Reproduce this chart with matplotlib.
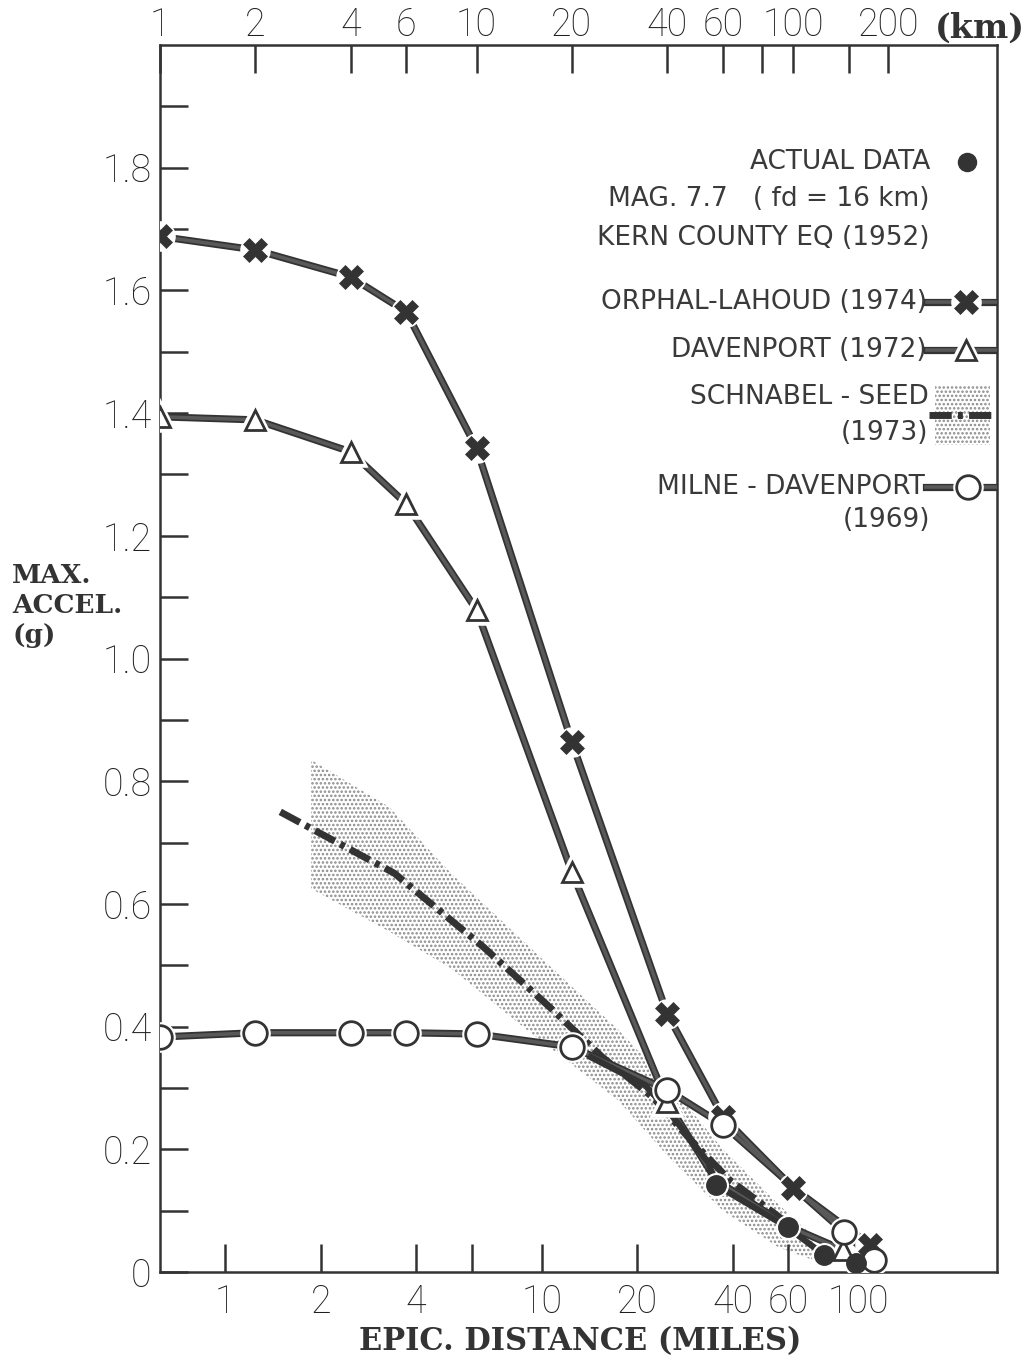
import numpy as np
import matplotlib
matplotlib.use("Agg")
import matplotlib.pyplot as plt
from matplotlib.ticker import NullLocator, FixedLocator

# distances in km, accelerations in g
orphal_km = [1, 2, 4, 6, 10, 20, 40, 60, 100, 175]
orphal_g = [1.688, 1.666, 1.622, 1.565, 1.343, 0.864, 0.421, 0.253, 0.137, 0.044]

dav_km = [1, 2, 4, 6, 10, 20, 40, 47.5, 57, 96, 144]
dav_g = [1.394, 1.389, 1.337, 1.252, 1.079, 0.652, 0.277, 0.215, 0.15, 0.075, 0.036]
dav_marks = [0, 1, 2, 3, 4, 5, 6, 10]

milne_km = [1, 2, 4, 6, 10, 20, 40, 60, 145, 180]
milne_g = [0.383, 0.39, 0.39, 0.39, 0.388, 0.367, 0.297, 0.24, 0.065, 0.02]

actual_km = [23, 34, 40, 47.5, 54, 57, 96, 125, 158]
actual_g = [0.35, 0.305, 0.265, 0.215, 0.178, 0.142, 0.073, 0.028, 0.015]
actual_marks = [5, 6, 7, 8]

schnabel_km = [2.4, 5.5, 10.5, 17, 25, 36, 47.5, 63, 87, 100]
schnabel_g = [0.75, 0.65, 0.53, 0.432, 0.35, 0.285, 0.215, 0.15, 0.096, 0.072]

band_km = [3.0, 5.3, 8.3, 14, 28, 40, 60, 90, 115]
band_hi = [0.835, 0.758, 0.65, 0.54, 0.395, 0.31, 0.2, 0.11, 0.06]
band_lo = [0.625, 0.555, 0.495, 0.40, 0.28, 0.19, 0.1, 0.04, 0.02]

km_ticks = [1, 2, 4, 6, 10, 20, 40, 60, 80, 100, 150, 200]
km_labels = ["1", "2", "4", "6", "10", "20", "40", "60", "", "100", "", "200"]
mile_ticks = [1, 2, 4, 6, 10, 20, 40, 60, 100]
mile_labels = ["1", "2", "4", "", "10", "20", "40", "60", "100"]
KM_PER_MILE = 1.609344

INK = "#333333"
MID = "#595959"
TICKFONT = dict(family="Roboto", weight="light", size=27)
TICKCOL = "#1f1f1f"

plt.rcParams["hatch.linewidth"] = 1.2
plt.rcParams["hatch.color"] = "#8a8a8a"

fig = plt.figure(figsize=(10.25, 13.6), dpi=100)
ax = fig.add_axes([0.156, 0.0647, 0.8166, 0.9022])
ax.set_xscale("log")
ax.set_xlim(1, 440)
ax.set_ylim(0, 2.0)


def thick(x, y, z=2):
    ax.plot(x, y, color=INK, lw=5.2, solid_capstyle="butt", zorder=z)
    ax.plot(x, y, color=MID, lw=2.6, solid_capstyle="butt", zorder=z + 0.1)


# stippled band + dash-dot (Schnabel-Seed)
ax.fill_between(band_km, band_lo, band_hi, facecolor="none", edgecolor="#8a8a8a",
                hatch="....", linewidth=0, zorder=1)
ax.plot(schnabel_km, schnabel_g, color=INK, lw=5, dashes=(3.2, 0.9, 0.7, 0.9),
        dash_capstyle="butt", zorder=1.5)

# curves
thick(orphal_km, orphal_g)
thick(dav_km, dav_g)
thick(milne_km, milne_g)
ax.plot(actual_km, actual_g, color=INK, lw=4.5, zorder=2.3)

dk = [dav_km[i] for i in dav_marks]
dg = [dav_g[i] for i in dav_marks]
ak = [actual_km[i] for i in actual_marks]
ag = [actual_g[i] for i in actual_marks]

# white halos to break lines at markers
ax.plot(orphal_km, orphal_g, ls="none", marker="o", ms=21, mfc="white", mec="white", zorder=3)
ax.plot(dk, dg, ls="none", marker="^", ms=19, mfc="white", mec="white", mew=4, zorder=3)
ax.plot(milne_km, milne_g, ls="none", marker="o", ms=21, mfc="white", mec="white", zorder=3)
ax.plot(ak, ag, ls="none", marker="o", ms=17, mfc="white", mec="white", zorder=3)

ax.plot(orphal_km, orphal_g, ls="none", marker="X", ms=17, mfc=INK, mec=INK, mew=0.5, zorder=4)
ax.plot(dk, dg, ls="none", marker="^", ms=14, mfc="white", mec=INK, mew=2, zorder=4)
ax.plot(milne_km, milne_g, ls="none", marker="o", ms=17, mfc="white", mec=INK, mew=2, zorder=4)
ax.plot(ak, ag, ls="none", marker="o", ms=14, mfc=INK, mec=INK, zorder=4)

# axes styling
for s in ax.spines.values():
    s.set_linewidth(1.8)
    s.set_color(INK)

ax.set_yticks(np.arange(0, 1.81, 0.2))
ax.set_yticklabels(["0", "0.2", "0.4", "0.6", "0.8", "1.0", "1.2", "1.4", "1.6", "1.8"])
ax.yaxis.set_minor_locator(FixedLocator(np.arange(0.1, 1.95, 0.2)))
ax.tick_params(axis="y", which="both", direction="in", length=20, width=1.8,
               color=INK, right=False, pad=6)

ax.xaxis.set_minor_locator(NullLocator())
ax.set_xticks([m * KM_PER_MILE for m in mile_ticks])
ax.set_xticklabels(mile_labels)
ax.tick_params(axis="x", which="both", direction="in", length=20, width=1.8,
               color=INK, top=False, pad=8)
for lab in ax.get_xticklabels() + ax.get_yticklabels():
    lab.set_fontproperties(TICKFONT)
    lab.set_color(TICKCOL)

top = ax.twiny()
top.set_xscale("log")
top.set_xlim(ax.get_xlim())
top.xaxis.set_minor_locator(NullLocator())
top.set_xticks(km_ticks)
top.set_xticklabels(km_labels)
top.tick_params(axis="x", which="both", direction="in", length=20, width=1.8,
                color=INK, pad=1)
for lab in top.get_xticklabels():
    lab.set_fontproperties(TICKFONT)
    lab.set_color(TICKCOL)
for s in top.spines.values():
    s.set_visible(False)

# axis labels
fig.text(0.012, 0.555, "MAX.\nACCEL.\n(g)", ha="left", va="center", linespacing=1.25,
         family="DejaVu Serif", weight="bold", size=19, color=INK)
fig.text(0.566, 0.002, "EPIC. DISTANCE (MILES)", ha="center", va="bottom",
         family="DejaVu Serif", weight="bold", size=22, color=INK)
fig.text(1.0, 0.979, "(km)", ha="right", va="center",
         family="DejaVu Serif", weight="bold", size=24, color=INK)

# legend block (axes fraction coordinates)
lf = dict(family="DejaVu Sans", size=19, color="#3a3a3a", ha="right", va="center")
T = ax.transAxes
ax.text(0.92, 0.9046, "ACTUAL DATA", transform=T, **lf)
ax.plot([0.964], [0.9046], transform=T, marker="o", ms=13, color=INK, ls="none", clip_on=False)
ax.text(0.92, 0.8745, "MAG. 7.7   ( fd = 16 km)", transform=T, **lf)
ax.text(0.92, 0.8427, "KERN COUNTY EQ (1952)", transform=T, **lf)

ax.text(0.916, 0.7905, "ORPHAL-LAHOUD (1974)", transform=T, **lf)
ax.plot([0.917, 1.0], [0.7905, 0.7905], transform=T, color=INK, lw=5.2, zorder=5)
ax.plot([0.917, 1.0], [0.7905, 0.7905], transform=T, color=MID, lw=2.6, zorder=5.1)
ax.plot([0.963], [0.7905], transform=T, marker="o", ms=21, mfc="white", mec="white", zorder=5.2)
ax.plot([0.963], [0.7905], transform=T, marker="X", ms=17, mfc=INK, mec=INK, mew=0.5, zorder=5.3)

ax.text(0.916, 0.7514, "DAVENPORT (1972)", transform=T, **lf)
ax.plot([0.917, 1.0], [0.7514, 0.7514], transform=T, color=INK, lw=5.2, zorder=5)
ax.plot([0.917, 1.0], [0.7514, 0.7514], transform=T, color=MID, lw=2.6, zorder=5.1)
ax.plot([0.963], [0.7514], transform=T, marker="^", ms=19, mfc="white", mec="white", mew=4, zorder=5.2)
ax.plot([0.963], [0.7514], transform=T, marker="^", ms=14, mfc="white", mec=INK, mew=2, zorder=5.3)

ax.text(0.918, 0.7131, "SCHNABEL - SEED", transform=T, **lf)
ax.text(0.918, 0.6838, "(1973)", transform=T, **lf)
ax.fill_between([0.926, 0.992], [0.674, 0.674], [0.723, 0.723], transform=T,
                facecolor="none", edgecolor="#8a8a8a", hatch="....", linewidth=0, zorder=5)
ax.plot([0.919, 1.0], [0.6985, 0.6985], transform=T, color=INK, lw=5,
        dashes=(3.2, 0.9, 0.7, 0.9), dash_capstyle="butt", zorder=5.1)

ax.text(0.914, 0.6398, "MILNE - DAVENPORT", transform=T, **lf)
ax.text(0.92, 0.6129, "(1969)", transform=T, **lf)
ax.plot([0.915, 1.0], [0.6398, 0.6398], transform=T, color=INK, lw=5.2, zorder=5)
ax.plot([0.915, 1.0], [0.6398, 0.6398], transform=T, color=MID, lw=2.6, zorder=5.1)
ax.plot([0.965], [0.6398], transform=T, marker="o", ms=21, mfc="white", mec="white", zorder=5.2)
ax.plot([0.965], [0.6398], transform=T, marker="o", ms=17, mfc="white", mec=INK, mew=2, zorder=5.3)

fig.savefig("out.png", dpi=100, facecolor="white")
